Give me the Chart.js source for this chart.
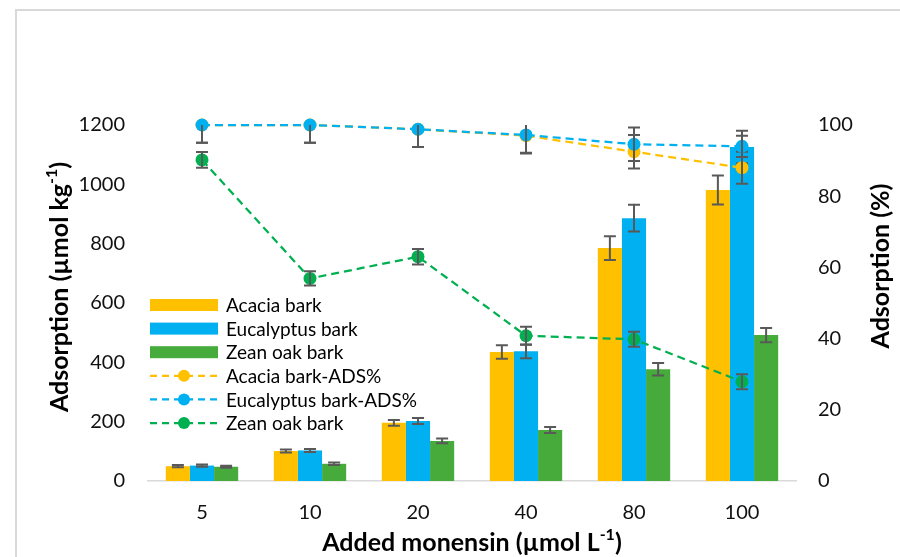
<!DOCTYPE html>
<html>
<head>
<meta charset="utf-8">
<script src="https://cdn.jsdelivr.net/npm/chart.js@4.4.1/dist/chart.umd.min.js"></script>
<style>
  html, body { margin: 0; padding: 0; background: #ffffff; }
  #wrap { position: relative; width: 900px; height: 557px; overflow: hidden; }
  #frame { position: absolute; left: 15px; top: 9px; width: 1000px; height: 700px;
           border-left: 2px solid #d9d9d9; border-top: 2px solid #d9d9d9; }
  #c { position: absolute; left: 0; top: 0; }
</style>
</head>
<body>
<div id="wrap">
  <div id="frame"></div>
  <canvas id="c" width="900" height="557"></canvas>
</div>
<script>
// Added monensin concentrations (µmol L-1)
const categories = ['5', '10', '20', '40', '80', '100'];

// Adsorbed amount (µmol kg-1) and standard deviations
const acaciaBark = [50, 101, 196, 435, 785, 981];
const acaciaBarkErr = [4, 5, 10, 23, 40, 49];
const eucalyptusBark = [52, 103, 202, 437, 886, 1126];
const eucalyptusBarkErr = [4, 5, 10, 23, 45, 55];
const zeanOakBark = [48, 58, 135, 172, 377, 492];
const zeanOakBarkErr = [3, 4, 8, 10, 21, 24];

// Adsorption percentage (%) and standard deviations
const acaciaAds = [100, 100, 98.8, 97, 92.5, 88];
const acaciaAdsErr = [5, 5, 5, 5, 4.7, 4.5];
const eucalyptusAds = [100, 100, 98.8, 97.2, 94.6, 94];
const eucalyptusAdsErr = [5, 5, 5, 5, 4.7, 3];
const zeanAds = [90.2, 56.9, 63, 40.8, 39.8, 27.9];
const zeanAdsErr = [2.2, 2, 2.2, 2.5, 2.1, 2.1];

// Axis ranges
const leftAxisMax = 1200, leftAxisStep = 200;
const rightAxisMax = 100, rightAxisStep = 20;

const YELLOW = '#FFC000', BLUE = '#00B0F0', GREEN_BAR = '#46AB3B', GREEN_LINE = '#00B050';
const ERR_COLOR = '#595959';
const FONT = 'Lato, "Open Sans", sans-serif';

// Error bars, drawn right after each dataset so they layer with it
const errorBars = {
  id: 'errorBars',
  afterDatasetDraw(chart, args) {
    const ds = chart.data.datasets[args.index];
    if (!ds.errors) return;
    const ctx = chart.ctx;
    const area = chart.chartArea;
    const scale = chart.scales[ds.yAxisID];
    ctx.save();
    ctx.beginPath();
    ctx.rect(area.left, area.top, area.right - area.left, area.bottom - area.top);
    ctx.clip();
    ctx.strokeStyle = ERR_COLOR;
    ctx.lineWidth = 2;
    args.meta.data.forEach((el, i) => {
      const v = ds.data[i], e = ds.errors[i];
      const yTop = scale.getPixelForValue(v + e);
      const yBot = scale.getPixelForValue(v - e);
      const x = el.x, w = 6;
      ctx.beginPath();
      ctx.moveTo(x, yTop); ctx.lineTo(x, yBot);
      ctx.moveTo(x - w, yTop); ctx.lineTo(x + w, yTop);
      ctx.moveTo(x - w, yBot); ctx.lineTo(x + w, yBot);
      ctx.stroke();
    });
    ctx.restore();
  }
};

// Text with a raised "-1" exponent, centred on (0, 0)
function drawSupText(ctx, parts, size) {
  const base = 'bold ' + size + 'px ' + FONT;
  const small = 'bold ' + Math.round(size * 0.62) + 'px ' + FONT;
  let total = 0;
  parts.forEach(p => { ctx.font = p.sup ? small : base; total += ctx.measureText(p.t).width; });
  let x = -total / 2;
  ctx.textBaseline = 'middle';
  ctx.textAlign = 'left';
  parts.forEach(p => {
    ctx.font = p.sup ? small : base;
    ctx.fillText(p.t, x, p.sup ? -size * 0.33 : 0);
    x += ctx.measureText(p.t).width;
  });
}

const axisTitles = {
  id: 'axisTitles',
  afterDraw(chart) {
    const ctx = chart.ctx;
    const area = chart.chartArea;
    ctx.save();
    ctx.fillStyle = '#000';
    // left
    ctx.save();
    ctx.translate(60, 287);
    ctx.rotate(-Math.PI / 2);
    drawSupText(ctx, [{ t: 'Adsorption (µmol kg' }, { t: '-1', sup: true }, { t: ')' }], 25);
    ctx.restore();
    // right
    ctx.save();
    ctx.translate(881, 266);
    ctx.rotate(-Math.PI / 2);
    drawSupText(ctx, [{ t: 'Adsorption (%)' }], 25);
    ctx.restore();
    // bottom
    ctx.save();
    ctx.translate((area.left + area.right) / 2, 543);
    drawSupText(ctx, [{ t: 'Added monensin (µmol L' }, { t: '-1', sup: true }, { t: ')' }], 25);
    ctx.restore();
    ctx.restore();
  }
};

// Legend inside the plot, on the left
const plotLegend = {
  id: 'plotLegend',
  afterDraw(chart) {
    const ctx = chart.ctx;
    const x0 = 150, x1 = 218, textX = 226, rowY = 305, rowH = 23.6;
    ctx.save();
    ctx.font = '19px ' + FONT;
    ctx.textBaseline = 'middle';
    ctx.textAlign = 'left';
    chart.data.datasets.forEach((ds, i) => {
      const y = rowY + i * rowH;
      if (ds.type === 'line') {
        ctx.strokeStyle = ds.borderColor;
        ctx.lineWidth = 2.25;
        ctx.setLineDash([7, 5]);
        ctx.beginPath();
        ctx.moveTo(x0, y); ctx.lineTo(x1, y);
        ctx.stroke();
        ctx.setLineDash([]);
        ctx.fillStyle = ds.pointBackgroundColor;
        ctx.beginPath();
        ctx.arc((x0 + x1) / 2, y, 6, 0, Math.PI * 2);
        ctx.fill();
      } else {
        ctx.fillStyle = ds.backgroundColor;
        ctx.fillRect(x0, y - 6, x1 - x0, 12);
      }
      ctx.fillStyle = '#000';
      ctx.fillText(ds.label, textX, y + 1);
    });
    ctx.restore();
  }
};

function lineSet(label, data, errors, color, order) {
  return {
    type: 'line', label, data, errors, yAxisID: 'y1', order,
    borderColor: color, borderWidth: 2.25, borderDash: [8, 5],
    pointRadius: 6.5, pointHoverRadius: 6.5, pointBackgroundColor: color,
    pointBorderWidth: 0, tension: 0, fill: false, clip: false
  };
}

function barSet(label, data, errors, color) {
  return {
    type: 'bar', label, data, errors, yAxisID: 'y', order: 3,
    backgroundColor: color, borderWidth: 0,
    categoryPercentage: 0.67, barPercentage: 1.0
  };
}

const plainNumber = v => String(v);

function build() {
  new Chart(document.getElementById('c'), {
    type: 'bar',
    data: {
      labels: categories,
      datasets: [
        barSet('Acacia bark', acaciaBark, acaciaBarkErr, YELLOW),
        barSet('Eucalyptus bark', eucalyptusBark, eucalyptusBarkErr, BLUE),
        barSet('Zean oak bark', zeanOakBark, zeanOakBarkErr, GREEN_BAR),
        lineSet('Acacia bark-ADS%', acaciaAds, acaciaAdsErr, YELLOW, 2),
        lineSet('Eucalyptus bark-ADS%', eucalyptusAds, eucalyptusAdsErr, BLUE, 1),
        lineSet('Zean oak bark', zeanAds, zeanAdsErr, GREEN_LINE, 0)
      ]
    },
    options: {
      responsive: false,
      animation: false,
      layout: { padding: { top: 125, left: 0, right: 0, bottom: 0 } },
      plugins: { legend: { display: false }, tooltip: { enabled: false } },
      scales: {
        x: {
          grid: { display: false, drawTicks: false },
          border: { display: true, color: '#d9d9d9', width: 1.5 },
          ticks: { color: '#111', font: { family: FONT, size: 20 }, padding: 20 },
          afterFit(s) { s.height = 76; }
        },
        y: {
          position: 'left', min: 0, max: leftAxisMax,
          grid: { display: false, drawTicks: false },
          border: { display: false },
          ticks: { stepSize: leftAxisStep, callback: plainNumber, color: '#111', font: { family: FONT, size: 20 }, padding: 23 },
          afterFit(s) { s.width = 148; }
        },
        y1: {
          position: 'right', min: 0, max: rightAxisMax,
          grid: { display: false, drawTicks: false },
          border: { display: false },
          ticks: { stepSize: rightAxisStep, callback: plainNumber, color: '#111', font: { family: FONT, size: 20 }, padding: 22 },
          afterFit(s) { s.width = 104; }
        }
      }
    },
    plugins: [errorBars, axisTitles, plotLegend]
  });
}

Promise.all([
  document.fonts.load('20px Lato'),
  document.fonts.load('bold 20px Lato')
]).then(build, build);
</script>
</body>
</html>
